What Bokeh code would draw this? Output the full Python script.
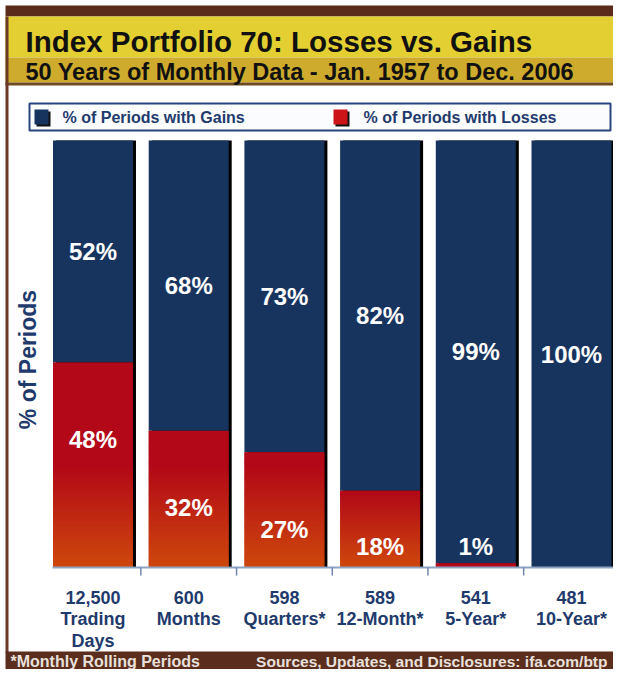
from bokeh.plotting import figure
from bokeh.models import Range1d
from bokeh.embed import file_html
from bokeh.resources import INLINE
from bokeh.core.properties import value
import math

# ---------------- data ----------------
categories = ["12,500\nTrading\nDays", "600\nMonths", "598\nQuarters*",
              "589\n12-Month*", "541\n5-Year*", "481\n10-Year*"]
gains = [52, 68, 73, 82, 99, 100]
losses = [48, 32, 27, 18, 1, 0]
title_text = "Index Portfolio 70: Losses vs. Gains"
subtitle_text = "50 Years of Monthly Data - Jan. 1957 to Dec. 2006"
legend_labels = ["% of Periods with Gains", "% of Periods with Losses"]
y_label = "% of Periods"
footnote = "*Monthly Rolling Periods"
source_text = "Sources, Updates, and Disclosures: ifa.com/btp"

# ---------------- styling / geometry ----------------
FONT = value("Liberation Sans")
BLUE = "#17345f"
RED_TOP = (178, 8, 24)
RED_BOT = (206, 72, 12)
TXT_BLUE = "#1f3a6c"

W, H = 613, 669
X0, PITCH = 92.5, 95.7   # px centre of first bar, px between bars
Y0, PPU = 567.0, 4.27    # px of value 0, px per percent
BAR_W = 80 / PITCH


def X(px):
    return (px - X0) / PITCH


def Y(py):
    return (Y0 - py) / PPU


def hexc(c):
    return "#%02x%02x%02x" % tuple(int(round(v)) for v in c)


p = figure(width=W, height=H, x_range=Range1d(X(0), X(W)),
           y_range=Range1d(Y(H), Y(0)), output_backend="svg",
           toolbar_location=None, min_border=0,
           x_axis_location=None, y_axis_location=None)
p.grid.visible = False
p.outline_line_color = None
p.background_fill_color = "white"
p.border_fill_color = "white"

# ---------------- frame decorations ----------------
p.quad(left=[X(5)], right=[X(W)], top=[Y(5)], bottom=[Y(16)],
       fill_color="#5a2b1b", line_color=None)
p.quad(left=[X(5)], right=[X(W)], top=[Y(16)], bottom=[Y(57)],
       fill_color="#e3cf32", line_color=None)
p.quad(left=[X(5)], right=[X(W)], top=[Y(57)], bottom=[Y(82)],
       fill_color="#ceab2c", line_color=None)
p.quad(left=[X(5)], right=[X(W)], top=[Y(82)], bottom=[Y(85)],
       fill_color="#6e4c1f", line_color=None)
p.quad(left=[X(5)], right=[X(8)], top=[Y(16)], bottom=[Y(652)],
       fill_color="#6a3a26", line_color=None)
p.quad(left=[X(5)], right=[X(W)], top=[Y(651)], bottom=[Y(H)],
       fill_color="#5a2d1d", line_color=None)

# titles
p.text(x=[X(25)], y=[Y(41)], text=[title_text], text_font=FONT,
       text_font_style="bold", text_font_size="29.5px", text_color="#111111",
       text_align="left", text_baseline="middle")
p.text(x=[X(25)], y=[Y(71)], text=[subtitle_text], text_font=FONT,
       text_font_style="bold", text_font_size="23.5px", text_color="#111111",
       text_align="left", text_baseline="middle")

# legend box
p.quad(left=[X(29)], right=[X(610)], top=[Y(103)], bottom=[Y(130)],
       fill_color="#fbfcfe", line_color="#26457a", line_width=2)
p.quad(left=[X(36), X(335)], right=[X(50), X(349)],
       top=[Y(111), Y(111)], bottom=[Y(126), Y(126)],
       fill_color="#111111", line_color=None)
p.quad(left=[X(34), X(333)], right=[X(48), X(347)],
       top=[Y(109), Y(109)], bottom=[Y(124), Y(124)],
       fill_color=[BLUE, "#cc1418"], line_color=None)
p.text(x=[X(62), X(363)], y=[Y(117), Y(117)], text=legend_labels, text_font=FONT,
       text_font_style="bold", text_font_size="16px", text_color=TXT_BLUE,
       text_align="left", text_baseline="middle")

# ---------------- bars ----------------
xs = list(range(len(categories)))
totals = [g + l for g, l in zip(gains, losses)]
p.vbar(x=[x + 3 / PITCH for x in xs], width=BAR_W, bottom=0, top=totals,
       fill_color="#000000", line_color=None)
p.vbar(x=xs, width=BAR_W, bottom=losses, top=totals,
       fill_color=BLUE, line_color=None)

# losses with vertical gradient
lefts, rights, tops, bottoms, cols = [], [], [], [], []
STEP = 0.25
for x, L in zip(xs, losses):
    if L <= 0:
        continue
    n = max(1, int(math.ceil(L / STEP)))
    span = min(L, 24)
    for k in range(n):
        b = k * STEP
        t = min(L, b + STEP)
        frac = 1.0 if L < 3 else min(((b + t) / 2) / span, 1.0)
        c = [RED_BOT[j] + (RED_TOP[j] - RED_BOT[j]) * frac for j in range(3)]
        lefts.append(x - BAR_W / 2)
        rights.append(x + BAR_W / 2)
        bottoms.append(b)
        tops.append(min(L, t + STEP * 0.8))
        cols.append(hexc(c))
p.quad(left=lefts, right=rights, top=tops, bottom=bottoms,
       fill_color=cols, line_color=None)

# value labels
gain_y = [l + g / 2 for g, l in zip(gains, losses)]
p.text(x=xs, y=gain_y, text=["%d%%" % g for g in gains], text_font=FONT,
       text_font_style="bold", text_font_size="24px", text_color="white",
       text_align="center", text_baseline="middle")
lx = [x for x, l in zip(xs, losses) if l > 0]
ll = [l for l in losses if l > 0]
p.text(x=lx, y=[max(l - 18, 5) for l in ll], text=["%d%%" % l for l in ll],
       text_font=FONT, text_font_style="bold", text_font_size="24px",
       text_color="white", text_align="center", text_baseline="middle")

# ---------------- axes ----------------
p.segment(x0=[X(52)], x1=[X(W)], y0=[0], y1=[0], line_color="#8ea3c2",
          line_width=2)
tick_x = [x + 0.5 for x in xs[:-1]]
p.segment(x0=tick_x, x1=tick_x, y0=[0] * len(tick_x), y1=[Y(575)] * len(tick_x),
          line_color="#7088ad", line_width=1.5)
p.text(x=xs, y=[Y(587)] * len(xs), text=categories, text_font=FONT,
       text_font_style="bold", text_font_size="18px", text_color=TXT_BLUE,
       text_align="center", text_baseline="top", text_line_height=1.08)
p.text(x=[X(27)], y=[Y(359)], text=[y_label], angle=math.pi / 2,
       text_font=FONT, text_font_style="bold", text_font_size="23px",
       text_color=TXT_BLUE, text_align="center", text_baseline="middle")

# footer
p.text(x=[X(10)], y=[Y(660.5)], text=[footnote],
       text_font=FONT, text_font_style="bold", text_font_size="16px",
       text_color="#e9e1dc", text_align="left", text_baseline="middle")
p.text(x=[X(607)], y=[Y(660.5)], text=[source_text],
       text_font=FONT, text_font_style="bold", text_font_size="15.5px",
       text_color="#e9e1dc", text_align="right", text_baseline="middle")

open("out.html", "w").write(file_html(p, INLINE))
